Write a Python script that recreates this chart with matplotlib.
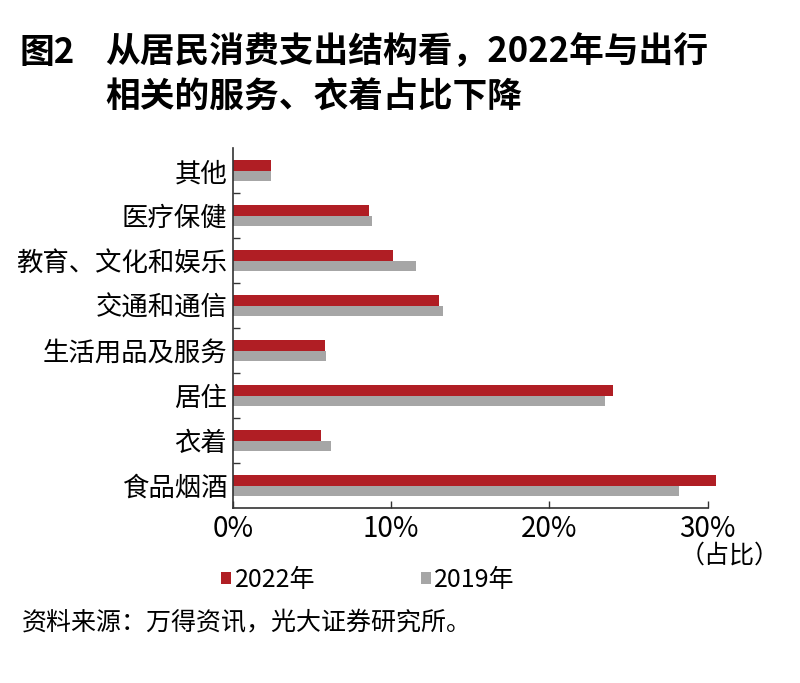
import matplotlib
matplotlib.use("Agg")
import matplotlib.pyplot as plt
import numpy as np

plt.rcParams['font.family'] = ['Noto Sans CJK SC', 'DejaVu Sans']

# categories top to bottom, as in the reference
categories = ['其他', '医疗保健', '教育、文化和娱乐', '交通和通信',
              '生活用品及服务', '居住', '衣着', '食品烟酒']
share_2022 = [2.4, 8.6, 10.1, 13.0, 5.8, 24.0, 5.6, 30.5]
share_2019 = [2.4, 8.8, 11.6, 13.3, 5.9, 23.5, 6.2, 28.2]
xticks = [0, 10, 20, 30]
xtick_labels = ['0%', '10%', '20%', '30%']

red = '#B01E24'
gray = '#A6A6A6'

fig = plt.figure(figsize=(8, 6.83), dpi=100)
ax = fig.add_axes([0.291, 0.2562, 0.5937, 0.527])

n = len(categories)
ypos = np.arange(n)[::-1]
h = 0.235
ax.barh(ypos + h / 2, share_2022, height=h, color=red, label='2022年', clip_on=False)
ax.barh(ypos - h / 2, share_2019, height=h, color=gray, label='2019年', clip_on=False)

ax.set_xlim(0, 30)
ax.set_ylim(-0.5, n - 0.5)

ax.set_yticks(ypos)
ax.set_yticklabels(categories, fontsize=19)
ax.set_yticks(np.arange(n - 1) + 0.5, minor=True)
ax.tick_params(axis='y', which='major', length=0, pad=4)
ax.tick_params(axis='y', which='minor', direction='in', length=5, width=1, color='#333333')

ax.set_xticks(xticks)
ax.set_xticklabels(xtick_labels, fontsize=20)
ax.tick_params(axis='x', direction='in', length=5, width=1, color='#333333', pad=4)

for s in ['top', 'right']:
    ax.spines[s].set_visible(False)
for s in ['left', 'bottom']:
    ax.spines[s].set_color('#333333')
    ax.spines[s].set_linewidth(1.2)

fig.text(730 / 800, 1 - 556 / 683, '（占比）', fontsize=18, ha='center', va='center')

fig.legend(loc='center', bbox_to_anchor=(368 / 800, 1 - 580 / 683), ncol=2,
           frameon=False, fontsize=18, handlelength=0.4, handleheight=0.4,
           handletextpad=0.15, columnspacing=4.2)

fig.text(19 / 800, 1 - 52 / 683, '图2', fontsize=25, fontweight='bold', ha='left', va='center')
fig.text(105 / 800, 1 - 52 / 683, '从居民消费支出结构看，2022年与出行', fontsize=25,
         fontweight='bold', ha='left', va='center')
fig.text(105 / 800, 1 - 97 / 683, '相关的服务、衣着占比下降', fontsize=25,
         fontweight='bold', ha='left', va='center')

fig.text(22 / 800, 1 - 622 / 683, '资料来源：万得资讯，光大证券研究所。', fontsize=18,
         ha='left', va='center')

fig.savefig('out.png', dpi=100)
